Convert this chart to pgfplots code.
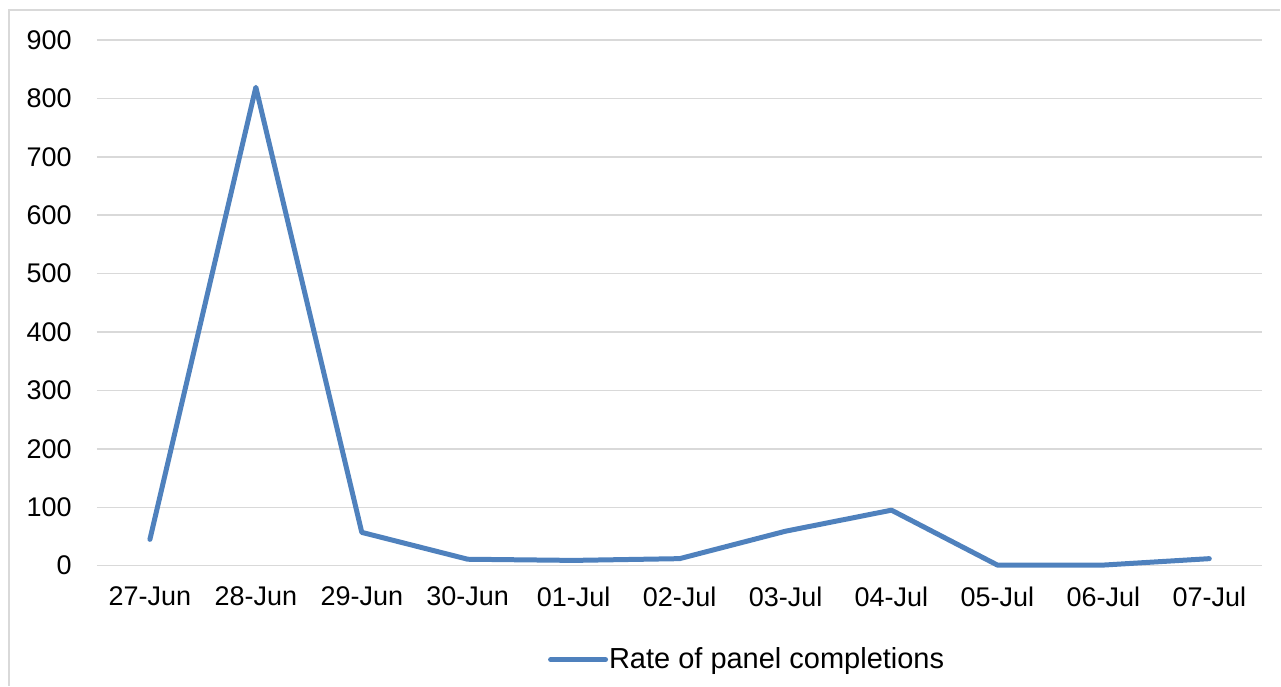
\documentclass[border=0pt]{standalone}
\usepackage{pgfplots}
\pgfplotsset{compat=1.18}
\usepackage{fontspec}
\setmainfont{Liberation Sans}
\definecolor{exblue}{RGB}{79,129,189}
\definecolor{gridgrey}{RGB}{217,217,217}
\begin{document}
\begin{tikzpicture}
\path (0pt,0pt) rectangle (640.5pt,343pt);
\draw[gridgrey, line width=0.75pt] (4.5pt,0pt) -- (4.5pt,338pt) -- (640.5pt,338pt);
\begin{axis}[
  at={(48.5pt,60pt)}, anchor=south west,
  scale only axis, width=583pt, height=263pt,
  xmin=-0.5, xmax=10.5, ymin=0, ymax=900,
  xtick={0,...,10},
  xticklabels={27-Jun,28-Jun,29-Jun,30-Jun,01-Jul,02-Jul,03-Jul,04-Jul,05-Jul,06-Jul,07-Jul},
  ytick={0,100,...,900},
  ymajorgrids, grid style={gridgrey, line width=0.75pt},
  axis line style={draw=none},
  major tick length=0pt,
  /pgf/number format/assume math mode=true,
  tick label style={font=\fontsize{13.5}{16}\selectfont, text=black},
  yticklabel style={inner sep=0pt, xshift=-12.5pt},
  xticklabel style={inner sep=0pt, yshift=-10.5pt},
  legend style={at={(0.3868,-0.1787)}, anchor=west, draw=none, fill=none, inner sep=0pt,
    font=\fontsize{14.5}{17}\selectfont, nodes={inner sep=0.5pt}},
  legend image code/.code={\draw[#1, line cap=round] (0pt,0pt) -- (27.5pt,0pt);},
  clip=false,
]
\addplot[exblue, line width=2.5pt, line join=round, line cap=round] coordinates {
  (0,45) (1,819) (2,57) (3,11) (4,9) (5,12) (6,59) (7,95) (8,1) (9,1) (10,12)
};
\addlegendentry{Rate of panel completions}
\end{axis}
\end{tikzpicture}
\end{document}
